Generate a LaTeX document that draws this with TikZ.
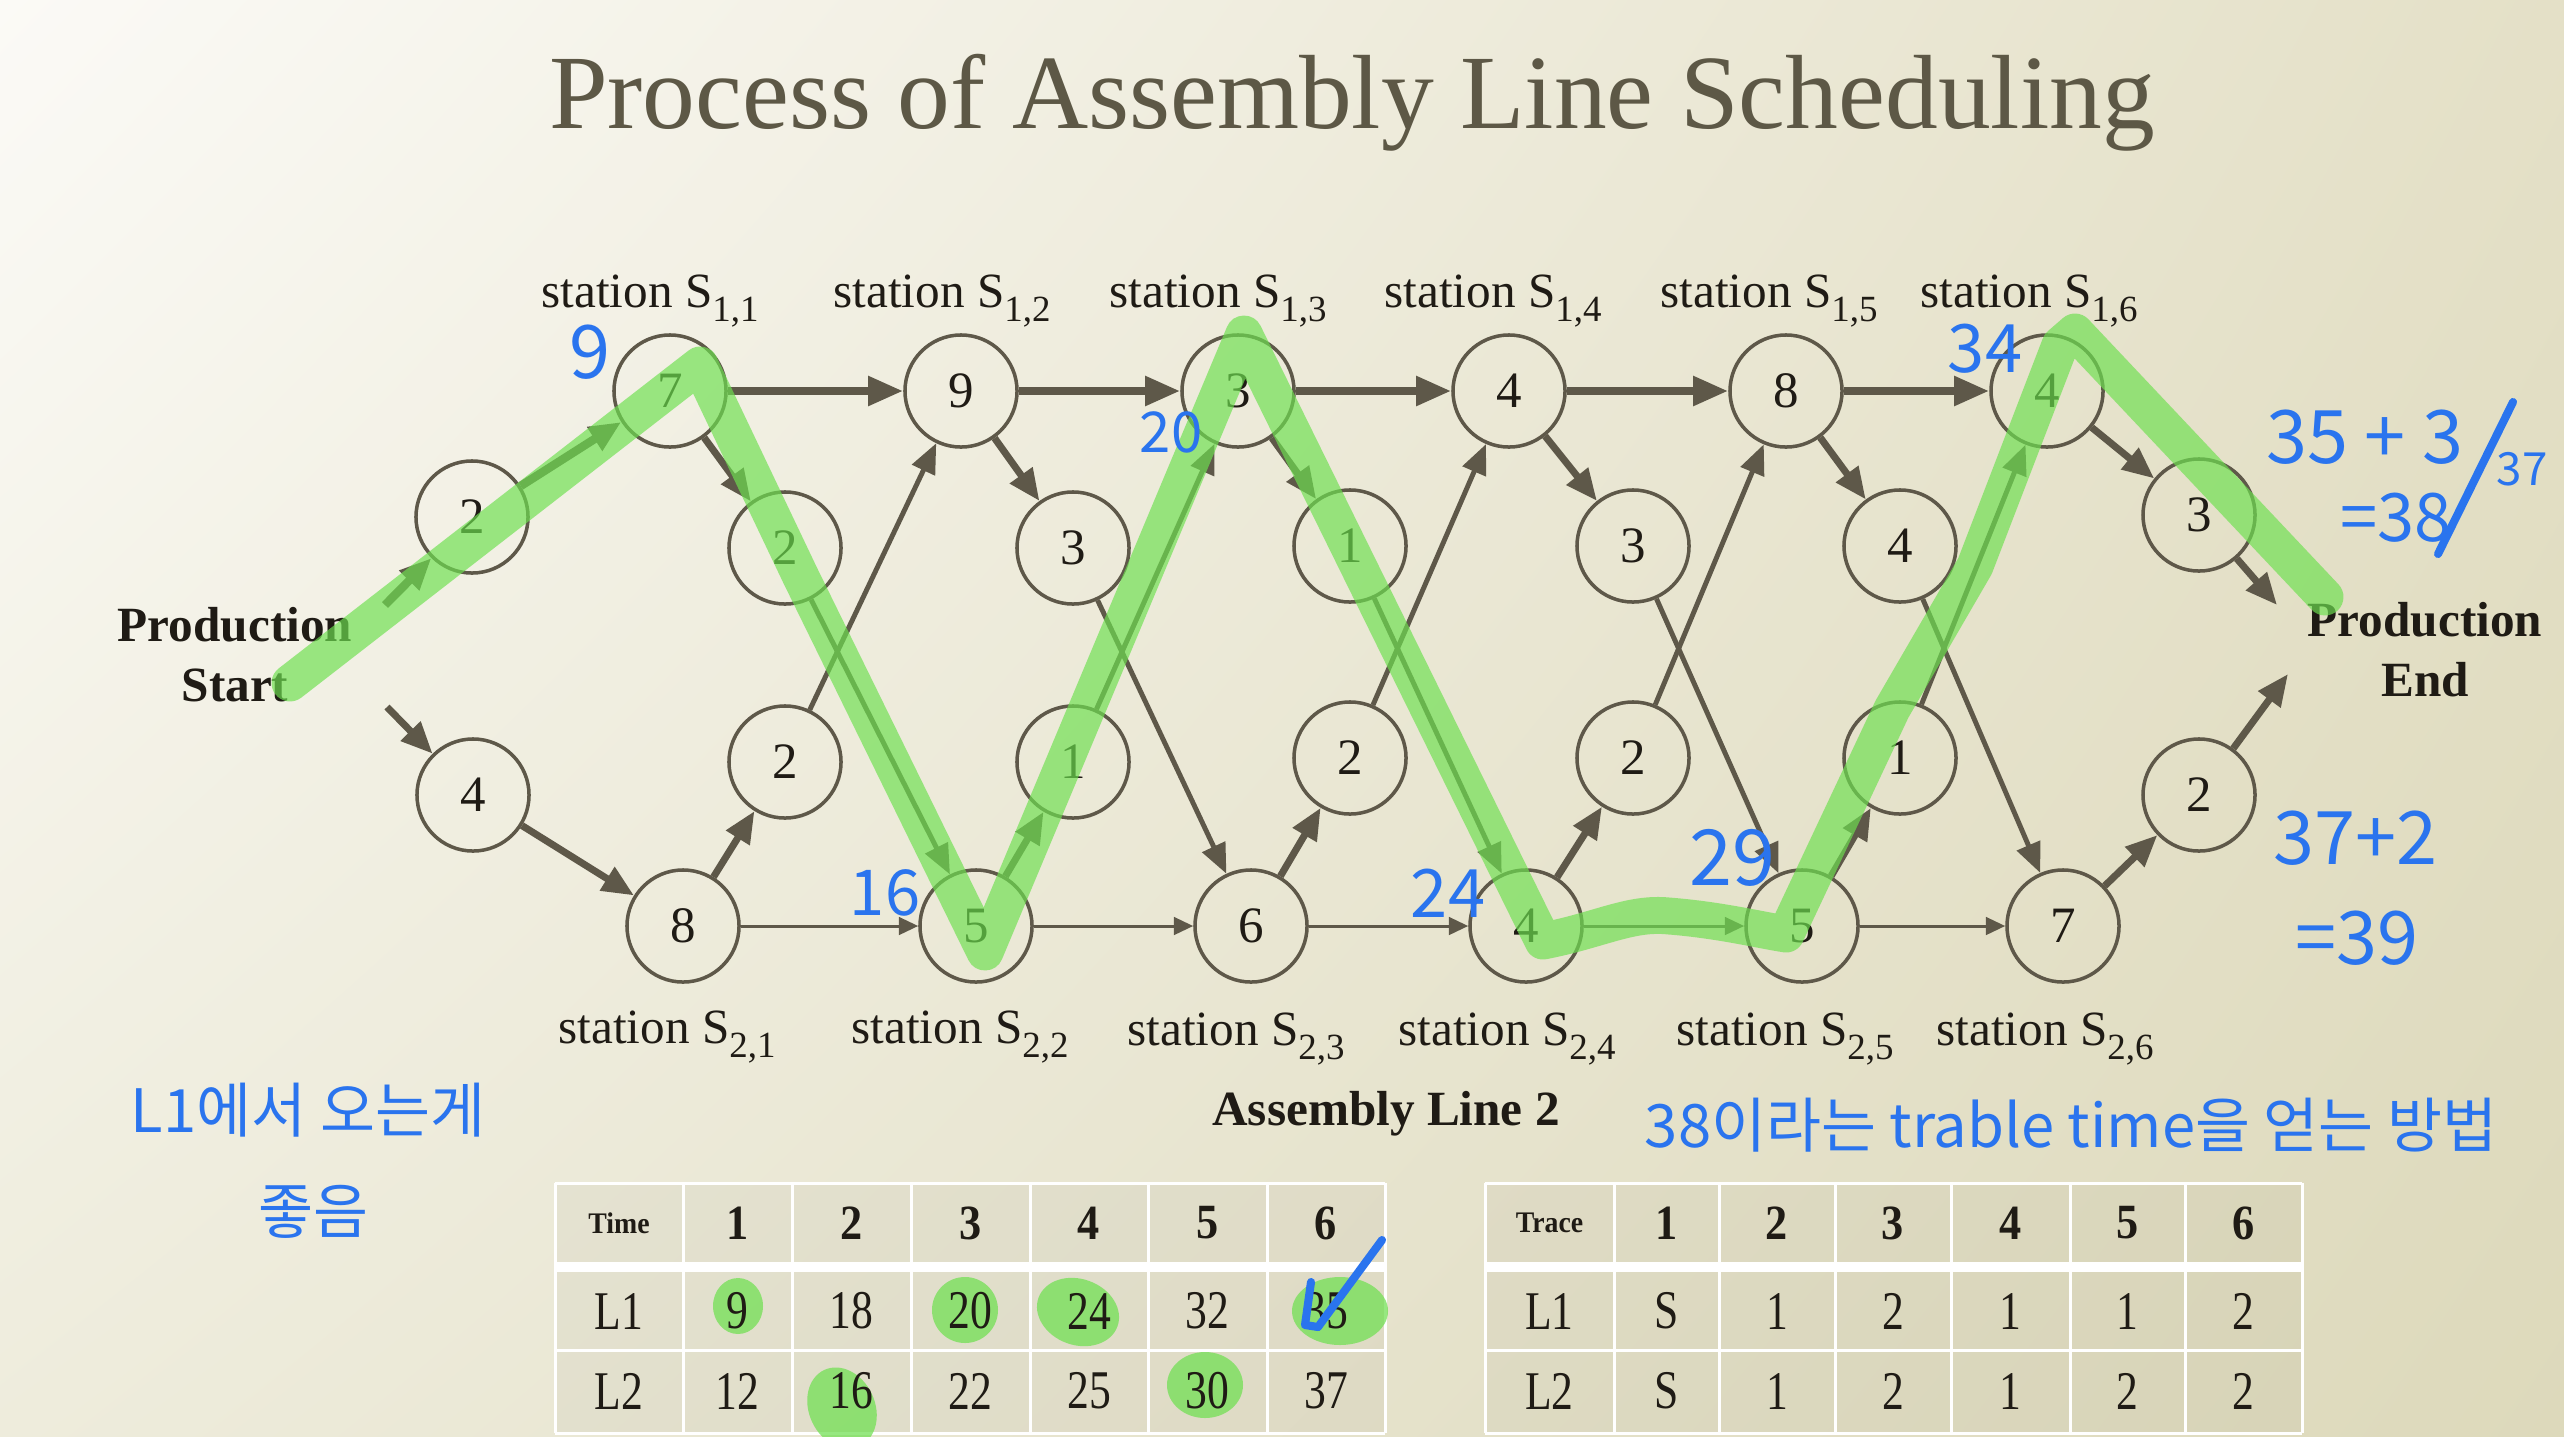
\documentclass[tikz,border=0pt]{standalone}
\usepackage{fontspec}
\setmainfont{Liberation Serif}
\newfontfamily\krfont{Noto Sans CJK KR}
\usetikzlibrary{arrows.meta,shadings}
\definecolor{ink}{HTML}{5E5849}
\definecolor{txt}{HTML}{1F1B15}
\definecolor{ttl}{HTML}{5D5846}
\definecolor{hb}{RGB}{42,116,238}
\definecolor{hg}{RGB}{110,224,80}
\definecolor{bgUL}{HTML}{FBFAF6}
\definecolor{bgUR}{HTML}{E4E0C7}
\definecolor{bgLL}{HTML}{EEECDC}
\definecolor{bgLR}{HTML}{DDD9BB}
\newcommand\ssub[1]{\raisebox{-0.3em}{\fontsize{10.5}{10.5}\selectfont #1}}
\begin{document}
\begin{tikzpicture}[x=0.01cm,y=-0.01cm,
  stn/.style={circle,draw=ink,line width=1pt,minimum size=1.12cm,inner sep=0pt,text=txt,font=\fontsize{14.5}{14.5}\selectfont},
  aTop/.style={draw=ink,line width=2.3pt,-{Triangle[length=10pt,width=8pt]}},
  aBot/.style={draw=ink,line width=0.85pt,-{Triangle[length=5.5pt,width=5pt]}},
  aShort/.style={draw=ink,line width=2pt,-{Triangle[length=9pt,width=7.5pt]}},
  aLong/.style={draw=ink,line width=1.4pt,-{Triangle[length=8.5pt,width=7pt]}},
  slab/.style={text=txt,anchor=base,font=\fontsize{14}{14}\selectfont,inner sep=0pt},
  blab/.style={text=txt,font=\bfseries\fontsize{14}{17}\selectfont,align=center,inner sep=0pt},
  hand/.style={text=hb,font=\krfont\fontsize{#1}{#1}\selectfont,inner sep=0pt},
  hdr/.style={text=txt,font=\bfseries\fontsize{14}{14}\selectfont,inner sep=0pt,xscale=0.9},
  hdrs/.style={text=txt,font=\bfseries\fontsize{8.5}{8.5}\selectfont,inner sep=0pt,xscale=0.93},
  cel/.style={text=txt,font=\fontsize{15.5}{15.5}\selectfont,inner sep=0pt,xscale=0.8},
  grid/.style={draw=white,line width=0.85pt},
  blob/.style={fill=hg,opacity=0.72},
  hl/.style={draw=hg,draw opacity=0.68,line width=10.5pt,line cap=round,line join=round},
  pen/.style={draw=hb,line width=2.3pt,line cap=round,line join=round}
]
\useasboundingbox (0,0) rectangle (2564,1436);
\shade[upper left=bgUL,upper right=bgUR,lower left=bgLL,lower right=bgLR] (0,0) rectangle (2564,1436);

% title
\node[text=ttl,anchor=base,font=\fontsize{30}{30}\selectfont,inner sep=0pt] (title) at (1352,128) {Process of Assembly Line Scheduling};

% tables
\fill[ink,opacity=0.05] (555,1183) rectangle (1385,1433);
\fill[ink,opacity=0.05] (1485,1183) rectangle (2302,1433);
\fill[white] (555,1263) rectangle (1385,1270);
\fill[white] (1485,1263) rectangle (2302,1270);
\foreach \yy in {1183,1263,1270,1350,1433} {
  \draw[grid] (555,\yy) -- (1385,\yy);
  \draw[grid] (1485,\yy) -- (2302,\yy);
}
\foreach \xx in {555,683,792,911,1030,1148,1267,1385} \draw[grid] (\xx,1183) -- (\xx,1433);
\foreach \xx in {1485,1614,1719,1835,1951,2070,2185,2302} \draw[grid] (\xx,1183) -- (\xx,1433);

% green blobs in table
\fill[blob] (738,1306) ellipse [x radius=25, y radius=28];
\fill[blob] (965,1310) ellipse [x radius=33, y radius=33];
\fill[blob,rotate around={-20:(1078,1312)}] (1078,1312) ellipse [x radius=42, y radius=33];
\fill[blob] (1340,1311) ellipse [x radius=48, y radius=34];
\fill[blob,rotate around={25:(842,1408)}] (842,1408) ellipse [x radius=33, y radius=42];
\fill[blob] (1205,1385) ellipse [x radius=38, y radius=33];

% table texts
\node[hdrs] (tT) at (619,1223) {Time};
\foreach \c/\xx in {1/737.5,2/851.5,3/970.5,4/1089,5/1207.5,6/1326} \node[hdr] (tH\c) at (\xx,1223) {\c};
\node[cel] (tL1) at (619,1311) {L1};
\node[cel] (tL2) at (619,1391) {L2};
\foreach \c/\xx/\v/\w in {1/737.5/9/12,2/851.5/18/16,3/970.5/20/22,4/1089/24/25,5/1207.5/32/30,6/1326/35/37} {
  \node[cel] (tA\c) at (\xx,1311) {\v};
  \node[cel] (tB\c) at (\xx,1391) {\w};
}
\node[hdrs] (rT) at (1549.5,1223) {Trace};
\foreach \c/\xx in {1/1666.5,2/1777,3/1893,4/2010.5,5/2127.5,6/2243.5} \node[hdr] (rH\c) at (\xx,1223) {\c};
\node[cel] (rL1) at (1549.5,1311) {L1};
\node[cel] (rL2) at (1549.5,1391) {L2};
\foreach \c/\xx/\v/\w in {1/1666.5/S/S,2/1777/1/1,3/1893/2/2,4/2010.5/1/1,5/2127.5/1/2,6/2243.5/2/2} {
  \node[cel] (rA\c) at (\xx,1311) {\v};
  \node[cel] (rB\c) at (\xx,1391) {\w};
}

% station nodes
\node[stn] (t1) at (670,391) {7};
\node[stn] (t2) at (961,391) {9};
\node[stn] (t3) at (1238,391) {3};
\node[stn] (t4) at (1509,391) {4};
\node[stn] (t5) at (1786,391) {8};
\node[stn] (t6) at (2047,391) {4};
\node[stn] (b1) at (683,926) {8};
\node[stn] (b2) at (976,926) {5};
\node[stn] (b3) at (1251,926) {6};
\node[stn] (b4) at (1526,926) {4};
\node[stn] (b5) at (1802,926) {5};
\node[stn] (b6) at (2063,926) {7};
\node[stn] (u1) at (785,548) {2};
\node[stn] (u2) at (1073,548) {3};
\node[stn] (u3) at (1350,546) {1};
\node[stn] (u4) at (1633,546) {3};
\node[stn] (u5) at (1900,546) {4};
\node[stn] (l1) at (785,762) {2};
\node[stn] (l2) at (1073,762) {1};
\node[stn] (l3) at (1350,758) {2};
\node[stn] (l4) at (1633,758) {2};
\node[stn] (l5) at (1900,758) {1};
\node[stn] (e1) at (472,517) {2};
\node[stn] (e2) at (473,795) {4};
\node[stn] (x1) at (2199,515) {3};
\node[stn] (x2) at (2199,795) {2};

% labels
\node[slab] (L11) at (650,307) {station S\ssub{1,1}};
\node[slab] (L12) at (942,307) {station S\ssub{1,2}};
\node[slab] (L13) at (1218,307) {station S\ssub{1,3}};
\node[slab] (L14) at (1493,307) {station S\ssub{1,4}};
\node[slab] (L15) at (1769,307) {station S\ssub{1,5}};
\node[slab] (L16) at (2029,307) {station S\ssub{1,6}};
\node[slab] (L21) at (667,1043) {station S\ssub{2,1}};
\node[slab] (L22) at (960,1043) {station S\ssub{2,2}};
\node[slab] (L23) at (1236,1045) {station S\ssub{2,3}};
\node[slab] (L24) at (1507,1045) {station S\ssub{2,4}};
\node[slab] (L25) at (1785,1045) {station S\ssub{2,5}};
\node[slab] (L26) at (2045,1045) {station S\ssub{2,6}};
\node[blab] (pstart) at (235,655) {Production\\Start};
\node[blab] (pend) at (2425,650) {Production\\End};
\node[text=txt,anchor=base,font=\bfseries\fontsize{14}{14}\selectfont,inner sep=0pt] (al2) at (1386,1125) {Assembly Line 2};

% free ends
\coordinate (s1) at (385,605);
\coordinate (s2) at (387,707);
\coordinate (f1) at (2277,605);
\coordinate (f2) at (2288,674);

% arrows
\draw[aShort,line width=2.4pt] (s1) -- (e1);
\draw[aShort,line width=2.4pt] (e1) -- (t1);
\draw[aShort] (s2) -- (e2);
\draw[aShort] (e2) -- (b1);
\foreach \a/\b in {1/2,2/3,3/4,4/5,5/6} {
  \draw[aTop] (t\a) -- (t\b);
  \draw[aBot] (b\a) -- (b\b);
  \draw[aShort] (t\a) -- (u\a);
  \draw[aLong] (u\a) -- (b\b);
  \draw[aShort] (b\a) -- (l\a);
  \draw[aLong] (l\a) -- (t\b);
}
\draw[aShort] (t6) -- (x1);
\draw[aShort] (x1) -- (f1);
\draw[aShort] (b6) -- (x2);
\draw[aShort] (x2) -- (f2);

% green highlighter
\draw[hl] (290,683) -- (700,365) -- (800,575) -- (985,952) -- (1244,334) -- (1543,941)
  .. controls (1600,930) and (1630,912) .. (1669,916) .. controls (1720,920) and (1760,930) .. (1786,934)
  -- (1892,709) -- (1975,566) -- (2060,345) -- (2075,332) -- (2325,597);

% handwritten notes
\node[hand=21] (n9) at (590,352) {9};
\node[hand=16] (n20) at (1171,432) {20};
\node[hand=18] (n16) at (885,893) {16};
\node[hand=19] (n24) at (1448,893) {24};
\node[hand=22] (n29) at (1732,858) {29};
\node[hand=19] (n34) at (1985,349) {34};
\node[hand=21] (nA) at (2365,437) {35 + 3};
\node[hand=19] (nB) at (2396,518) {=38};
\node[hand=13] (nC) at (2522,469) {37};
\draw[pen] (2513,402) -- (2438,554);
\node[hand=21] (nD) at (2355,838) {37+2};
\node[hand=21] (nE) at (2357,938) {=39};
\node[hand=17] (nK1) at (308,1110) {L1에서 오는게};
\node[hand=17] (nK2) at (313,1212) {좋음};
\node[hand=17] (nK3) at (2071,1125) {38이라는 trable time을 얻는 방법};
\draw[pen] (1311,1282) -- (1305,1325) -- (1318,1327) -- (1382,1240);
\end{tikzpicture}
\end{document}
